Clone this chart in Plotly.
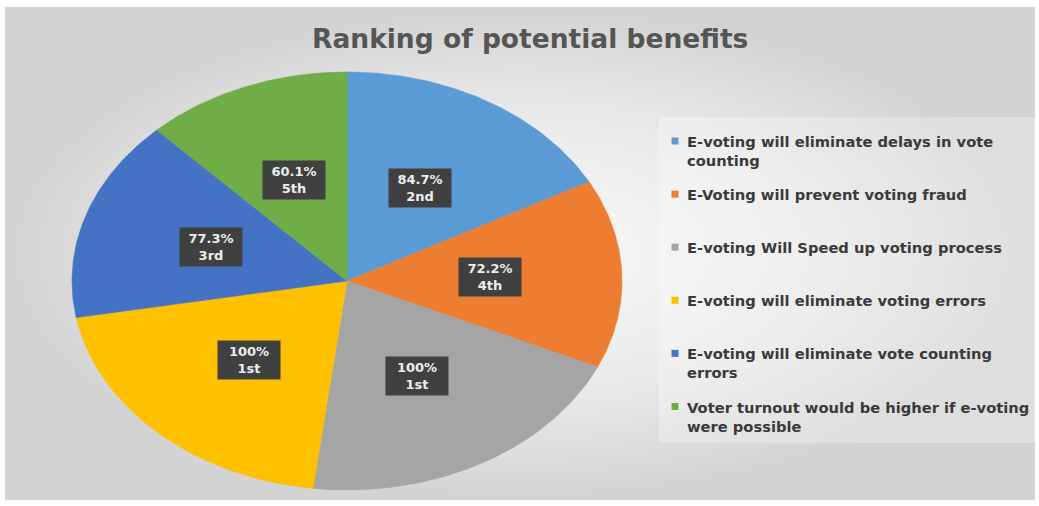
import numpy as np
import plotly.graph_objects as go

# ---- data -------------------------------------------------------------
categories = [
    "E-voting will eliminate delays in vote counting",
    "E-Voting will prevent voting fraud",
    "E-voting Will Speed up voting process",
    "E-voting will eliminate voting errors",
    "E-voting will eliminate vote counting errors",
    "Voter turnout would be higher if e-voting were possible",
]
legend_text = [
    "E-voting will eliminate delays in vote<br>counting",
    "E-Voting will prevent voting fraud",
    "E-voting Will Speed up voting process",
    "E-voting will eliminate voting errors",
    "E-voting will eliminate vote counting<br>errors",
    "Voter turnout would be higher if e-voting<br>were possible",
]
percent = [84.7, 72.2, 100, 100, 77.3, 60.1]
ranks = ["2nd", "4th", "1st", "1st", "3rd", "5th"]
colors = ["#5B9BD5", "#ED7D31", "#A5A5A5", "#FFC000", "#4472C4", "#70AD47"]

# ---- layout constants (pixel frame) -----------------------------------
W, H = 1039, 506
CX, CY, RX, RY = 347, 281, 275, 209   # elliptical pie centre and radii
LABEL_R = 0.52                        # label distance as fraction of radius

fig = go.Figure()

# chart area background with soft radial shading
bx0, by0, bx1, by1 = 5, 7, 1035, 500
fig.add_trace(go.Scatter(
    x=[bx0, bx1, bx1, bx0, bx0], y=[by0, by0, by1, by1, by0],
    mode="lines", line=dict(width=0), fill="toself",
    fillgradient=dict(type="radial",
                      colorscale=[[0, "#fafafa"], [0.6, "#e8e8e8"], [1, "#d3d3d3"]]),
    hoverinfo="skip", showlegend=False,
))

# legend panel
lx0, ly0, lx1, ly1 = 660, 118, 1035, 442
fig.add_trace(go.Scatter(
    x=[lx0, lx1, lx1, lx0, lx0], y=[ly0, ly0, ly1, ly1, ly0],
    mode="lines", line=dict(width=1, color="rgba(255,255,255,0.3)"),
    fill="toself", fillcolor="rgba(255,255,255,0.25)",
    hoverinfo="skip", showlegend=False,
))

# pie wedges, clockwise from 12 o'clock
total = sum(percent)
start = 90.0
annotations = []
for name, v, rank, col in zip(categories, percent, ranks, colors):
    sweep = v / total * 360.0
    t = np.radians(np.linspace(start, start - sweep, 90))
    xs = np.concatenate([[CX], CX + RX * np.cos(t), [CX]])
    ys = np.concatenate([[CY], CY - RY * np.sin(t), [CY]])
    fig.add_trace(go.Scatter(
        x=xs, y=ys, mode="lines", fill="toself", fillcolor=col,
        line=dict(width=0.6, color=col), name=name,
        hoverinfo="name", showlegend=False,
    ))
    mid = np.radians(start - sweep / 2)
    annotations.append(dict(
        x=CX + LABEL_R * RX * np.cos(mid), y=CY - LABEL_R * RY * np.sin(mid),
        xref="x", yref="y", showarrow=False,
        text=f"<b>{v:g}%<br>{rank}</b>", align="center", width=56,
        font=dict(family="DejaVu Sans", size=13, color="#eeeeee"),
        bgcolor="#404040", borderpad=3,
    ))
    start -= sweep

# legend entries
row0, row_step = 141, 53.1
mark_x, text_x = 675, 685
rows = [row0 + i * row_step for i in range(len(categories))]
fig.add_trace(go.Scatter(
    x=[mark_x] * len(rows), y=rows, mode="markers",
    marker=dict(symbol="square", size=7, color=colors),
    hoverinfo="skip", showlegend=False,
))
for txt, ry in zip(legend_text, rows):
    annotations.append(dict(
        x=text_x, y=ry - 10, xref="x", yref="y", xanchor="left", yanchor="top",
        showarrow=False, align="left", text=f"<b>{txt}</b>",
        font=dict(family="DejaVu Sans", size=14.7, color="#3a3a3a"),
    ))

# title
annotations.append(dict(
    x=530, y=38, xref="x", yref="y", showarrow=False,
    text="<b>Ranking of potential benefits</b>",
    font=dict(family="DejaVu Sans", size=26.5, color="#555555"),
))

fig.update_layout(
    width=W, height=H, margin=dict(l=0, r=0, t=0, b=0),
    paper_bgcolor="white", plot_bgcolor="white",
    xaxis=dict(range=[0, W], visible=False, fixedrange=True),
    yaxis=dict(range=[H, 0], visible=False, fixedrange=True),
    annotations=annotations, showlegend=False,
)

fig.write_html("out.html")
